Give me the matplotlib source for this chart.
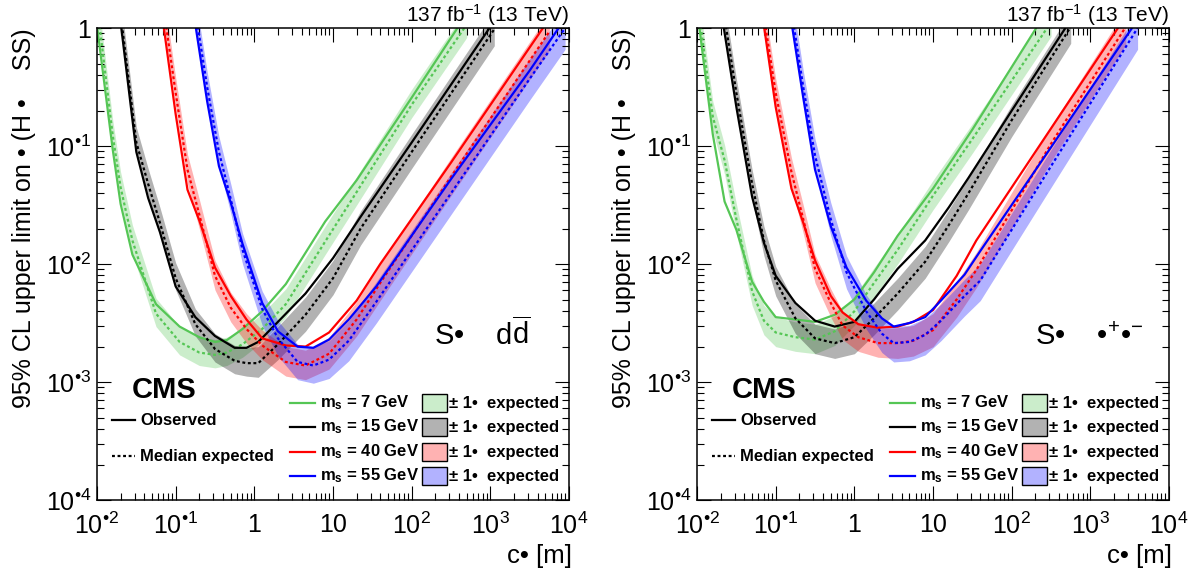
import numpy as np
import matplotlib
matplotlib.use("Agg")
import matplotlib.pyplot as plt
from matplotlib.colors import to_rgba
from matplotlib.patches import Rectangle
from matplotlib.ticker import LogLocator, NullFormatter

plt.rcParams['font.family'] = ['Liberation Sans', 'DejaVu Sans']
plt.rcParams['mathtext.fontset'] = 'custom'
plt.rcParams['mathtext.rm'] = 'Liberation Sans'
plt.rcParams['mathtext.it'] = 'Liberation Sans:italic'
plt.rcParams['mathtext.bf'] = 'Liberation Sans:bold'

# all values are log10: x = log10(c tau / m), y = log10(95% CL limit)
# ---- S -> d dbar ----
dd_x7 = [-2.0, -1.8, -1.7, -1.55, -1.25, -0.95, -0.7, -0.5, -0.35, -0.15, 0.1, 0.4, 0.9, 1.3, 2.0, 2.7]
dd_obs7 = [0.02, -1.03, -1.49, -1.92, -2.34, -2.53, -2.62, -2.66, -2.645, -2.55, -2.40, -2.17, -1.64, -1.29, -0.59, 0.12]
dd_exp7 = [0.2, -0.91, -1.35, -1.80, -2.42, -2.66, -2.75, -2.77, -2.75, -2.68, -2.55, -2.34, -1.81, -1.39, -0.65, 0.03]
dd_lo7 = [0.09, -1.02, -1.46, -1.91, -2.53, -2.77, -2.86, -2.88, -2.86, -2.79, -2.66, -2.45, -1.92, -1.50, -0.76, -0.08]
dd_hi7 = [0.33, -0.78, -1.22, -1.67, -2.29, -2.53, -2.62, -2.64, -2.62, -2.55, -2.42, -2.21, -1.68, -1.26, -0.52, 0.16]

dd_x15 = [-1.7, -1.5, -1.35, -1.2, -1.0, -0.75, -0.5, -0.25, -0.1, 0.05, 0.3, 0.65, 1.0, 1.35, 2.0, 3.05]
dd_obs15 = [0.05, -1.05, -1.44, -1.73, -2.19, -2.45, -2.61, -2.71, -2.71, -2.66, -2.49, -2.25, -1.95, -1.60, -0.97, 0.06]
dd_exp15 = [0.12, -0.97, -1.32, -1.65, -2.12, -2.51, -2.72, -2.82, -2.84, -2.84, -2.68, -2.43, -2.12, -1.70, -1.05, -0.01]
dd_lo15 = [0.02, -1.07, -1.42, -1.75, -2.22, -2.61, -2.83, -2.93, -2.95, -2.96, -2.81, -2.57, -2.26, -1.84, -1.19, -0.15]
dd_hi15 = [0.25, -0.84, -1.19, -1.52, -1.99, -2.38, -2.59, -2.69, -2.71, -2.70, -2.53, -2.28, -1.97, -1.55, -0.90, 0.14]

dd_x40 = [-1.15, -1.0, -0.85, -0.7, -0.5, -0.3, -0.1, 0.1, 0.4, 0.65, 0.95, 1.3, 1.6, 2.5, 3.75]
dd_obs40 = [0.0, -0.73, -1.37, -1.63, -2.03, -2.27, -2.47, -2.63, -2.69, -2.70, -2.58, -2.31, -2.0, -1.14, 0.08]
dd_exp40 = [0.15, -0.55, -1.2, -1.58, -2.1, -2.37, -2.55, -2.69, -2.83, -2.86, -2.76, -2.47, -2.16, -1.26, -0.03]
dd_lo40 = [0.03, -0.67, -1.32, -1.70, -2.22, -2.49, -2.67, -2.81, -2.95, -2.98, -2.89, -2.61, -2.31, -1.42, -0.19]
dd_hi40 = [0.28, -0.42, -1.07, -1.45, -1.97, -2.24, -2.42, -2.56, -2.70, -2.73, -2.62, -2.32, -2.0, -1.10, 0.13]

dd_x55 = [-0.75, -0.6, -0.45, -0.3, -0.15, 0.1, 0.3, 0.55, 0.75, 0.95, 1.2, 1.55, 2.5, 3.5, 3.95]
dd_obs55 = [0.03, -0.62, -1.17, -1.48, -1.83, -2.33, -2.57, -2.70, -2.71, -2.64, -2.47, -2.19, -1.28, -0.36, 0.08]
dd_exp55 = [0.15, -0.5, -1.05, -1.45, -1.88, -2.38, -2.63, -2.83, -2.86, -2.81, -2.65, -2.32, -1.40, -0.43, 0.0]
dd_lo55 = [0.03, -0.62, -1.17, -1.57, -2.0, -2.52, -2.78, -2.98, -3.01, -2.97, -2.82, -2.50, -1.58, -0.61, -0.18]
dd_hi55 = [0.27, -0.37, -0.92, -1.32, -1.74, -2.23, -2.48, -2.68, -2.70, -2.65, -2.48, -2.15, -1.23, -0.26, 0.16]

# ---- S -> tau tau ----
tt_x7 = [-2.0, -1.8, -1.65, -1.5, -1.3, -1.15, -1.0, -0.75, -0.5, -0.25, 0.0, 0.25, 0.55, 1.0, 1.5, 2.5]
tt_obs7 = [0.16, -0.90, -1.47, -1.71, -2.15, -2.32, -2.45, -2.47, -2.49, -2.43, -2.30, -2.07, -1.76, -1.36, -0.86, 0.2]
tt_exp7 = [0.25, -0.75, -1.12, -1.62, -2.23, -2.48, -2.58, -2.62, -2.64, -2.57, -2.40, -2.16, -1.88, -1.42, -0.94, 0.05]
tt_lo7 = [0.13, -0.87, -1.24, -1.74, -2.35, -2.60, -2.70, -2.74, -2.76, -2.69, -2.52, -2.28, -2.0, -1.54, -1.06, -0.07]
tt_hi7 = [0.38, -0.62, -0.99, -1.49, -2.10, -2.35, -2.45, -2.49, -2.51, -2.44, -2.27, -2.03, -1.75, -1.29, -0.81, 0.18]

tt_x15 = [-1.7, -1.5, -1.3, -1.15, -1.0, -0.75, -0.5, -0.25, 0.0, 0.25, 0.55, 0.9, 1.2, 1.45, 2.0, 2.75]
tt_obs15 = [0.17, -0.67, -1.43, -1.82, -2.10, -2.33, -2.48, -2.53, -2.49, -2.30, -2.04, -1.80, -1.52, -1.27, -0.70, 0.07]
tt_exp15 = [0.3, -0.55, -1.32, -1.80, -2.14, -2.46, -2.63, -2.67, -2.62, -2.46, -2.25, -1.98, -1.67, -1.40, -0.78, 0.01]
tt_lo15 = [0.17, -0.68, -1.45, -1.93, -2.27, -2.59, -2.76, -2.80, -2.76, -2.60, -2.39, -2.12, -1.81, -1.54, -0.92, -0.13]
tt_hi15 = [0.42, -0.43, -1.20, -1.68, -2.02, -2.34, -2.51, -2.55, -2.49, -2.33, -2.12, -1.85, -1.54, -1.27, -0.65, 0.14]

tt_x40 = [-1.15, -1.0, -0.8, -0.65, -0.5, -0.3, -0.15, 0.05, 0.3, 0.55, 0.75, 1.0, 1.3, 1.55, 2.5, 3.45]
tt_obs40 = [0.02, -0.67, -1.36, -1.65, -1.97, -2.27, -2.41, -2.51, -2.54, -2.53, -2.49, -2.39, -2.10, -1.80, -0.85, 0.1]
tt_exp40 = [0.1, -0.55, -1.22, -1.62, -2.04, -2.33, -2.52, -2.62, -2.67, -2.67, -2.65, -2.56, -2.30, -2.05, -0.98, 0.01]
tt_lo40 = [-0.02, -0.67, -1.34, -1.74, -2.16, -2.45, -2.64, -2.74, -2.79, -2.80, -2.78, -2.70, -2.45, -2.20, -1.13, -0.14]
tt_hi40 = [0.22, -0.43, -1.10, -1.50, -1.92, -2.21, -2.40, -2.50, -2.55, -2.54, -2.52, -2.42, -2.15, -1.90, -0.83, 0.16]

tt_x55 = [-0.8, -0.65, -0.5, -0.3, -0.1, 0.15, 0.35, 0.5, 0.7, 0.9, 1.1, 1.4, 1.6, 2.5, 3.6]
tt_obs55 = [0.05, -0.59, -1.2, -1.68, -2.03, -2.31, -2.46, -2.53, -2.50, -2.45, -2.31, -2.09, -1.89, -1.01, 0.07]
tt_exp55 = [0.15, -0.5, -1.08, -1.62, -2.07, -2.40, -2.59, -2.67, -2.66, -2.60, -2.48, -2.27, -2.14, -1.17, 0.0]
tt_lo55 = [0.0, -0.62, -1.20, -1.76, -2.21, -2.55, -2.75, -2.83, -2.82, -2.77, -2.65, -2.44, -2.31, -1.35, -0.18]
tt_hi55 = [0.29, -0.36, -0.94, -1.48, -1.93, -2.26, -2.45, -2.53, -2.52, -2.46, -2.34, -2.13, -2.0, -1.03, 0.14]

masses = [7, 15, 40, 55]
colors = ["#55c655", "black", "red", "blue"]
xtick_vals = [1e-2, 1e-1, 1, 10, 1e2, 1e3, 1e4]
xtick_labels = [r"$\mathregular{10^{•2}}$", r"$\mathregular{10^{•1}}$", "1", "10",
                r"$\mathregular{10^{2}}$", r"$\mathregular{10^{3}}$", r"$\mathregular{10^{4}}$"]
ytick_vals = [1e-4, 1e-3, 1e-2, 1e-1, 1]
ytick_labels = [r"$\mathregular{10^{•4}}$", r"$\mathregular{10^{•3}}$", r"$\mathregular{10^{•2}}$",
                r"$\mathregular{10^{•1}}$", "1"]

dd_curves = [(dd_x7, dd_obs7, dd_exp7, dd_lo7, dd_hi7),
             (dd_x15, dd_obs15, dd_exp15, dd_lo15, dd_hi15),
             (dd_x40, dd_obs40, dd_exp40, dd_lo40, dd_hi40),
             (dd_x55, dd_obs55, dd_exp55, dd_lo55, dd_hi55)]
tt_curves = [(tt_x7, tt_obs7, tt_exp7, tt_lo7, tt_hi7),
             (tt_x15, tt_obs15, tt_exp15, tt_lo15, tt_hi15),
             (tt_x40, tt_obs40, tt_exp40, tt_lo40, tt_hi40),
             (tt_x55, tt_obs55, tt_exp55, tt_lo55, tt_hi55)]

dd_label = r"S•    $\mathregular{d\overline{d}}$"
tt_label = r"S•    $\mathregular{•^{+}•^{-}}$"

lw = 1.6
dotted = (0, (1.3, 1.2))

fig = plt.figure(figsize=(12.02, 5.76), dpi=100)
ax1 = fig.add_axes([0.0807, 0.1319, 0.3927, 0.8194])
ax2 = fig.add_axes([0.5799, 0.1319, 0.3927, 0.8194])


def draw_panel(ax, curves, channel):
    for (x, obs, exp, lo, hi), c in zip(curves, colors):
        ax.fill_between(10 ** np.array(x), 10 ** np.array(lo), 10 ** np.array(hi),
                        color=c, alpha=0.3, lw=0)
    for (x, obs, exp, lo, hi), c in zip(curves, colors):
        ax.plot(10 ** np.array(x), 10 ** np.array(exp), color=c, lw=lw, ls=dotted)
        ax.plot(10 ** np.array(x), 10 ** np.array(obs), color=c, lw=lw)

    ax.set_xscale("log")
    ax.set_yscale("log")
    ax.set_xlim(1e-2, 1e4)
    ax.set_ylim(1e-4, 1)
    ax.set_xticks(xtick_vals)
    ax.set_xticklabels(xtick_labels)
    ax.set_yticks(ytick_vals)
    ax.set_yticklabels(ytick_labels)
    ax.xaxis.set_minor_locator(LogLocator(base=10, subs=np.arange(2, 10)))
    ax.yaxis.set_minor_locator(LogLocator(base=10, subs=np.arange(2, 10)))
    ax.xaxis.set_minor_formatter(NullFormatter())
    ax.yaxis.set_minor_formatter(NullFormatter())
    ax.tick_params(which="both", direction="in", top=True, right=True, width=0.8)
    ax.tick_params(which="major", length=10, labelsize=18)
    ax.tick_params(axis="x", which="major", pad=9)
    ax.tick_params(axis="y", which="major", pad=4)
    ax.tick_params(which="minor", length=5)
    for s in ax.spines.values():
        s.set_linewidth(1.1)

    ax.text(1.0, 1.013, r"137 fb$^{\mathregular{-1}}$ (13 TeV)", transform=ax.transAxes,
            ha="right", va="baseline", fontsize=15)
    ax.text(-0.155, 1.0, "95% CL upper limit on • (H •    SS)", transform=ax.transAxes,
            rotation=90, ha="center", va="top", fontsize=18)
    ax.text(1.006, -0.1335, "c• [m]", transform=ax.transAxes, ha="right",
            va="baseline", fontsize=18.5)
    ax.text(0.074, 0.216, "CMS", transform=ax.transAxes, ha="left", va="baseline",
            fontsize=21, fontweight="bold")
    ax.text(0.715, 0.328, channel, transform=ax.transAxes, ha="left", va="baseline",
            fontsize=21)

    # observed / expected key
    ax.plot([0.032, 0.080], [0.1695, 0.1695], transform=ax.transAxes, color="black", lw=lw)
    ax.text(0.091, 0.1695, "Observed", transform=ax.transAxes, va="center",
            fontsize=12, fontweight="bold")
    ax.plot([0.032, 0.080], [0.093, 0.093], transform=ax.transAxes, color="black",
            lw=lw, ls=dotted)
    ax.text(0.091, 0.093, "Median expected", transform=ax.transAxes, va="center",
            fontsize=12, fontweight="bold")

    # mass key
    rows = [0.2055, 0.1547, 0.1017, 0.0508]
    for m, c, y in zip(masses, colors, rows):
        ax.plot([0.409, 0.462], [y, y], transform=ax.transAxes, color=c, lw=lw)
        ax.text(0.4725, y, r"$\mathbf{m_s}$ = %d GeV" % m, transform=ax.transAxes,
                va="center", fontsize=12, fontweight="bold")
        ax.add_patch(Rectangle((0.6886, y - 0.02), 0.053, 0.040, transform=ax.transAxes,
                               facecolor=to_rgba(c, 0.3), edgecolor="black", lw=1.0))
        ax.text(0.7458, y, "± 1•  expected", transform=ax.transAxes, va="center",
                fontsize=12, fontweight="bold")


draw_panel(ax1, dd_curves, dd_label)
draw_panel(ax2, tt_curves, tt_label)

fig.savefig("out.png", dpi=100)
